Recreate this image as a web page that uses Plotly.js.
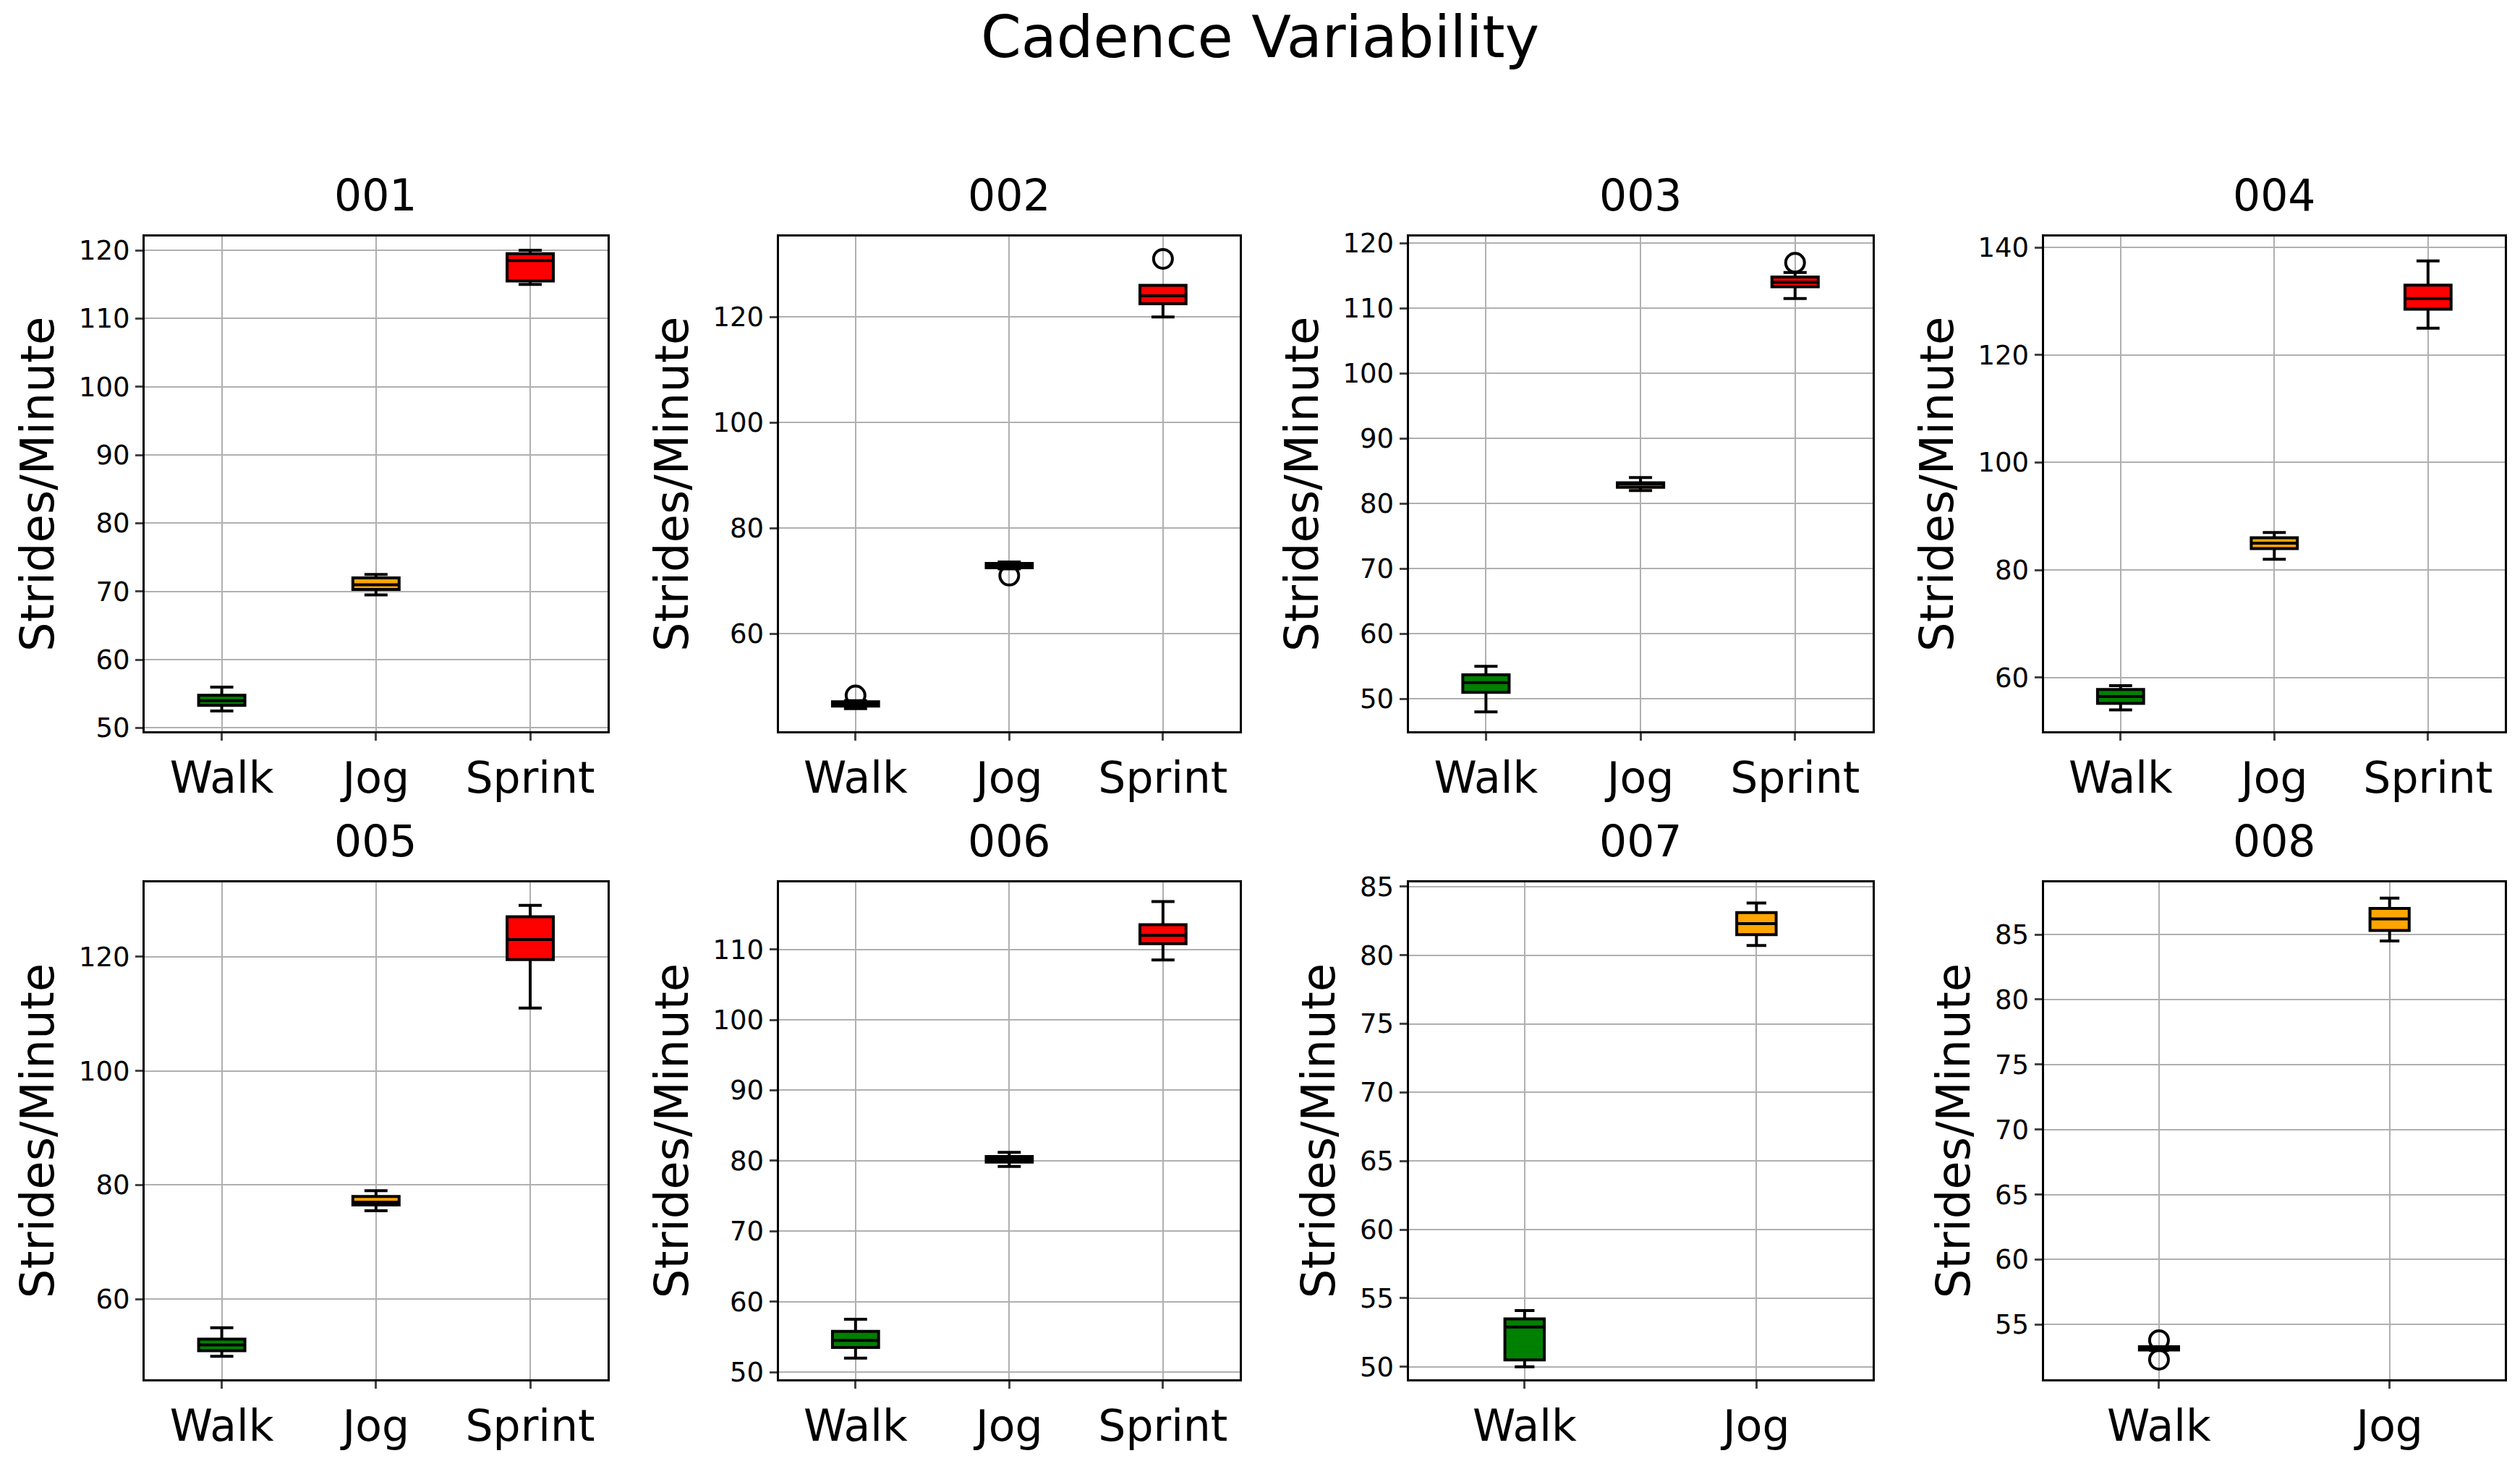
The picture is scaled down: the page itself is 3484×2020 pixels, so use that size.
<!DOCTYPE html>
<html>
<head>
<meta charset="utf-8">
<script src="https://cdn.plot.ly/plotly-3.0.1.min.js"></script>
<style>body{margin:0;background:#fff}#plot{width:3484px;height:2020px}</style>
</head>
<body>
<div id="plot"></div>
<script>
// box stats per subject: [lowerfence, q1, median, q3, upperfence]
var subjects = ['001', '002', '003', '004', '005', '006', '007', '008'];
var activities = ['Walk', 'Jog', 'Sprint'];
var colors = ['#008000', '#FFA500', '#FF0000'];

var stats = [
    [[52.5, 53.3, 54, 54.8, 56], [69.5, 70.3, 71, 72, 72.5], [115, 115.5, 118.5, 119.5, 120]],
    [[45.8, 46.3, 46.7, 47.1, 47.3], [72.3, 72.5, 72.8, 73.3, 73.6], [120, 122.5, 124, 126, 126]],
    [[48, 51, 52.5, 53.7, 55], [82, 82.5, 83, 83.2, 84], [111.5, 113.3, 114, 114.8, 115.5]],
    [[54, 55.2, 56.5, 57.8, 58.5], [82, 84, 85, 86, 87], [125, 128.5, 130.5, 133, 137.5]],
    [[50, 51, 52, 53, 55], [75.5, 76.5, 77, 78, 79], [111, 119.5, 123, 127, 129]],
    [[52, 53.5, 54.5, 55.8, 57.5], [79.2, 79.8, 80.2, 80.6, 81.2], [108.5, 110.8, 112, 113.5, 116.8]],
    [[50, 50.5, 52.9, 53.5, 54.1], [80.7, 81.5, 82.3, 83.1, 83.8]],
    [[53, 53.05, 53.2, 53.3, 53.3], [84.5, 85.3, 86.2, 87, 87.8]]
];
// outliers: [subject index, activity index, value]
var outliers = [
    [1, 0, 48.3], [1, 1, 71], [1, 2, 131],
    [2, 2, 117],
    [7, 0, 53.8], [7, 0, 52.3]
];
var yRanges = [[49.5, 122], [41.5, 135.2], [45, 121], [50, 142], [46, 133], [49, 119.5], [49.1, 85.3], [50.8, 89]];
var yTickStep = [10, 20, 10, 20, 20, 10, 5, 5];

var xDom = [[0.0574, 0.241], [0.309, 0.492], [0.559, 0.743], [0.811, 0.994]];
var yDom = [[0.4994, 0.838], [0.056, 0.396]];
var font = 'DejaVu Sans, sans-serif';

var data = [];
var layout = {
    width: 3484, height: 2020,
    paper_bgcolor: '#fff', plot_bgcolor: '#fff',
    showlegend: false,
    margin: {l: 0, r: 0, t: 0, b: 0},
    font: {family: font, color: '#000'},
    title: {text: 'Cadence Variability', font: {size: 80, family: font}, x: 0.5, y: 0.975, yanchor: 'middle'},
    annotations: []
};

subjects.forEach(function (s, i) {
    var n = i + 1;
    var xa = 'x' + (n === 1 ? '' : n), ya = 'y' + (n === 1 ? '' : n);
    var k = stats[i].length;
    var w = k === 3 ? 0.3 : 0.17;
    stats[i].forEach(function (st, j) {
        data.push({
            type: 'box', xaxis: xa, yaxis: ya, x: [j + 1],
            lowerfence: [st[0]], q1: [st[1]], median: [st[2]], q3: [st[3]], upperfence: [st[4]],
            width: w, whiskerwidth: 0.5,
            fillcolor: colors[j], line: {color: '#000', width: 4},
            boxpoints: false, hoverinfo: 'skip'
        });
    });
    var ox = [], oy = [];
    outliers.forEach(function (o) { if (o[0] === i) { ox.push(o[1] + 1); oy.push(o[2]); } });
    if (ox.length) data.push({
        type: 'scatter', mode: 'markers', xaxis: xa, yaxis: ya, x: ox, y: oy,
        marker: {symbol: 'circle-open', size: 26, color: '#000', line: {width: 4}}
    });
    var col = i % 4, row = Math.floor(i / 4);
    var axStyle = {showline: true, mirror: true, linecolor: '#000', linewidth: 3,
        ticks: 'outside', ticklen: 10, tickwidth: 3, showgrid: true, gridcolor: '#b0b0b0', gridwidth: 2, zeroline: false};
    layout['xaxis' + (n === 1 ? '' : n)] = Object.assign({}, axStyle, {
        domain: xDom[col], anchor: ya, range: [0.5, k + 0.5],
        tickvals: activities.slice(0, k).map(function (_, j) { return j + 1; }),
        ticktext: activities.slice(0, k), tickfont: {size: 60, family: font}
    });
    layout['yaxis' + (n === 1 ? '' : n)] = Object.assign({}, axStyle, {
        domain: yDom[row], anchor: xa, range: yRanges[i],
        tick0: 0, dtick: yTickStep[i],
        tickfont: {size: 37, family: font},
        title: {text: 'Strides/Minute', font: {size: 64, family: font}, standoff: 14}
    });
    layout.annotations.push({
        text: s, xref: 'paper', yref: 'paper', showarrow: false,
        x: (xDom[col][0] + xDom[col][1]) / 2, y: yDom[row][1] + 0.01,
        xanchor: 'center', yanchor: 'bottom', font: {size: 60, family: font}
    });
});

Plotly.newPlot('plot', data, layout, {staticPlot: true});
</script>
</body>
</html>
